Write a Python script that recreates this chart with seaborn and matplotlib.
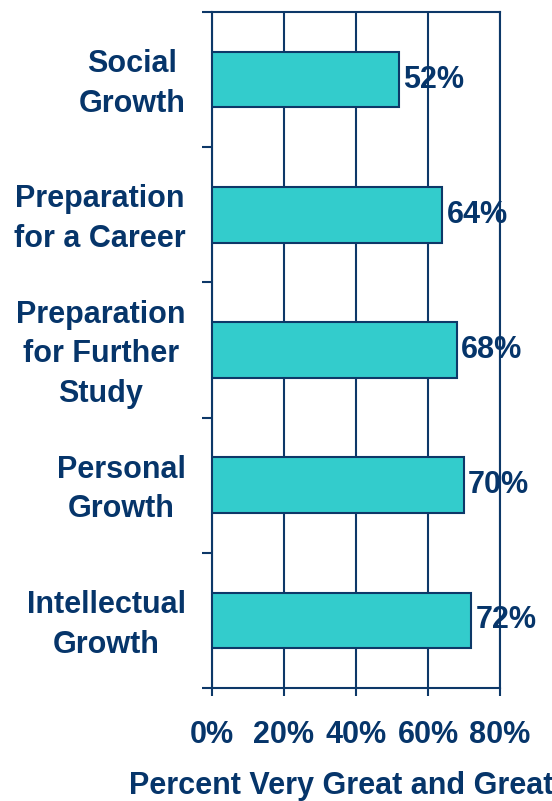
import matplotlib
matplotlib.use("Agg")
import matplotlib.pyplot as plt
import matplotlib.transforms as mtransforms
import seaborn as sns
import pandas as pd
from matplotlib.ticker import FixedLocator

categories = ["Social\nGrowth", "Preparation\nfor a Career", "Preparation\nfor Further\nStudy",
              "Personal\nGrowth", "Intellectual\nGrowth"]
values = [52, 64, 68, 70, 72]
x_ticks = [0, 20, 40, 60, 80]
x_tick_labels = ["0%", "20%", "40%", "60%", "80%"]

navy = "#0D3868"
text_navy = "#06356A"
bar_color = "#33CCCC"
fs = 22

sns.set_style("white")
plt.rcParams["font.family"] = ["Liberation Sans", "DejaVu Sans"]
plt.rcParams["font.weight"] = "bold"

df = pd.DataFrame({"category": categories, "value": values})

fig = plt.figure(figsize=(5.52, 8.01), dpi=100)
ax = fig.add_axes([212 / 552, 1 - 688 / 801, 288 / 552, 676 / 801])

sns.barplot(data=df, x="value", y="category", color=bar_color, width=0.41,
            edgecolor=navy, linewidth=1.5, ax=ax, zorder=3, saturation=1)

ax.set_xlim(0, 80)
ax.set_ylim(len(categories) - 0.5, -0.5)
ax.set_xticks(x_ticks)
ax.set_xticklabels(x_tick_labels, fontsize=fs, fontweight="bold", color=text_navy)
ax.set_yticklabels(categories, fontsize=fs, fontweight="bold", color=text_navy,
                   multialignment="center", linespacing=1.42)
ax.yaxis.set_minor_locator(FixedLocator([i - 0.5 for i in range(len(categories) + 1)]))
ax.tick_params(axis="y", which="both", left=True)
ax.tick_params(axis="y", which="major", length=0, pad=19)
ax.tick_params(axis="y", which="minor", length=7, width=1.5, color=navy, direction="out")
ax.tick_params(axis="x", which="major", bottom=True, length=6, width=1.5, color=navy,
               direction="out", pad=17)

# nudge category labels up a little
shift = mtransforms.ScaledTranslation(0, 4 / 100, fig.dpi_scale_trans)
for lbl in ax.get_yticklabels():
    lbl.set_transform(lbl.get_transform() + shift)

ax.grid(axis="x", color=navy, linewidth=1.5, zorder=0)
ax.set_axisbelow(True)
for side in ["left", "bottom", "top", "right"]:
    ax.spines[side].set_visible(True)
    ax.spines[side].set_color(navy)
    ax.spines[side].set_linewidth(1.5)

ax.set_xlabel("")
ax.set_ylabel("")

for i, v in enumerate(values):
    ax.annotate(f"{v}%", xy=(v, i), xytext=(3, 0), textcoords="offset points",
                ha="left", va="center", fontsize=fs, fontweight="bold", color=text_navy,
                zorder=5)

fig.text(341 / 552, 1 - 786 / 801, "Percent Very Great and Great", ha="center", va="center",
         fontsize=fs, fontweight="bold", color=text_navy)

fig.savefig("out.png", dpi=100)
